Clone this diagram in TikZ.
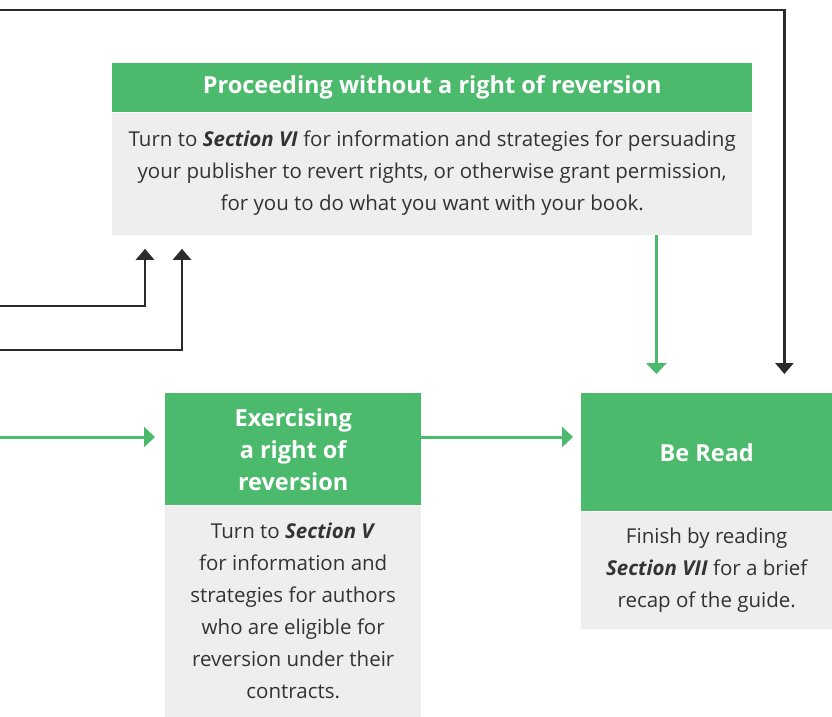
\documentclass[tikz,border=0pt]{standalone}
\usepackage{fontspec}
\setmainfont{Open Sans}
\usetikzlibrary{positioning}
\usetikzlibrary{arrows.meta}
\usetikzlibrary{calc}

\definecolor{boxgreen}{HTML}{4CBA6C}
\definecolor{boxgrey}{HTML}{EDEEED}
\definecolor{linegrey}{HTML}{2B2B2B}
\definecolor{textgrey}{HTML}{333333}

\tikzset{
  head/.style={fill=boxgreen, text=white, inner sep=0pt, anchor=north west,
    align=center, font=\fontsize{23.5}{32}\selectfont\bfseries},
  body/.style={fill=boxgrey, text=textgrey, inner sep=0pt, anchor=north west,
    align=center, font=\fontsize{20.5}{32}\selectfont},
  darkarrow/.style={draw=linegrey, line width=2.6pt, -{Triangle[width=18pt,length=11pt]}},
  greenarrow/.style={draw=boxgreen, line width=3pt, -{Triangle[width=20pt,length=11pt]}}
}
\newcommand{\sect}[1]{\textbf{\textit{#1}}}

\begin{document}
\begin{tikzpicture}[x=1pt,y=1pt]

	\useasboundingbox (0,0) rectangle (832,-716);

	% boxes
	\node[head, minimum width=640, minimum height=49] (procHead) at (112,-63)
		{Proceeding without a right of reversion};
	\node[body, minimum width=640, minimum height=122] (procText) at (procHead.south west)
		{Turn to \sect{Section VI} for information and strategies for persuading\\
		 your publisher to revert rights, or otherwise grant permission,\\
		 for you to do what you want with your book.};

	\node[head, minimum width=256, minimum height=112] (exerHead) at (165,-393)
		{Exercising\\a right of\\reversion};
	\node[body, minimum width=256, minimum height=211] (exerText) at (exerHead.south west)
		{Turn to \sect{Section V}\\
		 for information and\\
		 strategies for authors\\
		 who are eligible for\\
		 reversion under their\\
		 contracts.};

	\node[head, minimum width=251, minimum height=118] (readHead) at (581,-393)
		{Be Read};
	\node[body, minimum width=251, minimum height=117] (readText) at (readHead.south west)
		{Finish by reading\\
		 \sect{Section VII} for a brief\\
		 recap of the guide.};

	% loose ends coming in from the left
	\coordinate (inTop) at (0,-10);
	\coordinate (inOne) at (0,-306);
	\coordinate (inTwo) at (0,-350);
	\coordinate (inThree) at (0,-437);
	\coordinate (procOut) at ($(procText.south east)+(-96,0)$);

	% connectors
	\draw[darkarrow, shorten >=19pt] (inTop) -| ($(readHead.north east)+(-48,0)$);
	\draw[darkarrow, shorten >=14pt] (inOne) -| ($(procText.south west)+(33,0)$);
	\draw[darkarrow, shorten >=14pt] (inTwo) -| ($(procText.south west)+(70,0)$);
	\draw[greenarrow, shorten >=19pt] (procOut) -- (procOut |- readHead.north);
	\draw[greenarrow, shorten >=10pt] (inThree) -- (inThree -| exerHead.west);
	\draw[greenarrow, shorten >=8pt] (inThree -| exerHead.east) -- (inThree -| readHead.west);

\end{tikzpicture}
\end{document}
